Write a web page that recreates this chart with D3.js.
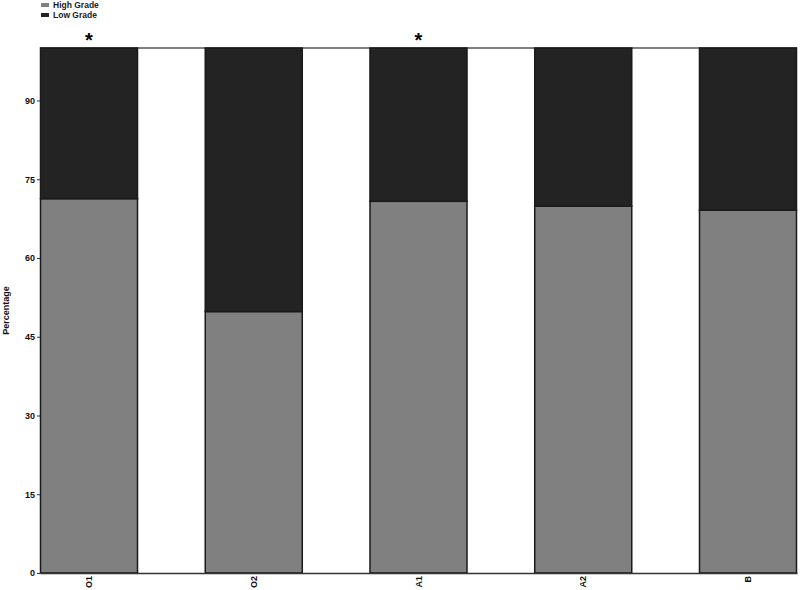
<!DOCTYPE html>
<html>
<head>
<meta charset="UTF-8">
<script src="https://cdn.jsdelivr.net/npm/d3@7"></script>
<style>
  body { margin: 0; background: #fff; }
  text { font-family: "Liberation Sans", Arial, sans-serif; font-weight: bold; }
</style>
</head>
<body>
<svg></svg>
<script>
// data
const groups = ["O1", "O2", "A1", "A2", "B"];
const highGrade = [71.3, 49.8, 70.8, 69.9, 69.1];
const lowGrade = highGrade.map(v => 100 - v);
const starred = ["O1", "A1"];
const yTicks = [0, 15, 30, 45, 60, 75, 90];
const seriesNames = ["High Grade", "Low Grade"];
const colors = ["#808080", "#232323"];

const width = 800, height = 590;
const margin = {top: 48, right: 3, bottom: 17, left: 40};

const svg = d3.select("svg").attr("width", width).attr("height", height);

const x = d3.scaleBand()
  .domain(groups)
  .range([margin.left, width - margin.right])
  .paddingInner(0.405)
  .paddingOuter(0);

const y = d3.scaleLinear()
  .domain([0, 100])
  .range([height - margin.bottom, margin.top]);

const rows = groups.map((g, i) => ({group: g, "High Grade": highGrade[i], "Low Grade": lowGrade[i]}));
const stack = d3.stack().keys(seriesNames)(rows);

// top reference line at 100
svg.append("line")
  .attr("x1", margin.left).attr("x2", width - margin.right)
  .attr("y1", y(100)).attr("y2", y(100))
  .attr("stroke", "#555").attr("stroke-width", 1.5);

svg.append("g")
  .selectAll("g")
  .data(stack)
  .join("g")
    .attr("fill", (d, i) => colors[i])
  .selectAll("rect")
  .data(d => d)
  .join("rect")
    .attr("x", d => x(d.data.group) + 0.5)
    .attr("y", d => y(d[1]))
    .attr("width", x.bandwidth() - 1)
    .attr("height", d => y(d[0]) - y(d[1]))
    .attr("stroke", "#1a1a1a")
    .attr("stroke-width", 1.5);

// x axis
svg.append("g")
  .attr("transform", `translate(0,${height - margin.bottom})`)
  .call(d3.axisBottom(x).tickSize(0).tickPadding(4))
  .call(g => g.select(".domain").attr("stroke", "#333").attr("stroke-width", 1.5))
  .call(g => g.selectAll("text")
    .attr("font-size", 9)
    .attr("fill", "#111")
    .attr("transform", "rotate(-90)")
    .attr("text-anchor", "end")
    .attr("dy", "0.35em")
    .attr("x", -3)
    .attr("y", 0));

// y axis
svg.append("g")
  .attr("transform", `translate(${margin.left},0)`)
  .call(d3.axisLeft(y).tickValues(yTicks).tickSize(3).tickPadding(2))
  .call(g => g.select(".domain").remove())
  .call(g => g.selectAll("line").attr("stroke", "#333"))
  .call(g => g.selectAll("text").attr("font-size", 9).attr("fill", "#111"));

svg.append("text")
  .attr("transform", `translate(9,${(y(0) + y(100)) / 2}) rotate(-90)`)
  .attr("text-anchor", "middle")
  .attr("font-size", 9)
  .attr("font-weight", "normal")
  .attr("fill", "#111")
  .text("Percentage");

// significance stars
svg.append("g")
  .selectAll("text")
  .data(starred)
  .join("text")
    .attr("x", d => x(d) + x.bandwidth() / 2)
    .attr("y", 47)
    .attr("text-anchor", "middle")
    .attr("font-size", 20)
    .attr("fill", "#000")
    .text("*");

// legend
const legend = svg.append("g")
  .selectAll("g")
  .data(seriesNames)
  .join("g")
    .attr("transform", (d, i) => `translate(41,${3 + i * 10})`);
legend.append("rect")
  .attr("width", 8).attr("height", 4)
  .attr("fill", (d, i) => colors[i]);
legend.append("text")
  .attr("x", 12).attr("y", 2)
  .attr("dy", "0.35em")
  .attr("font-size", 8.5)
  .attr("fill", "#222")
  .text(d => d);
</script>
</body>
</html>
